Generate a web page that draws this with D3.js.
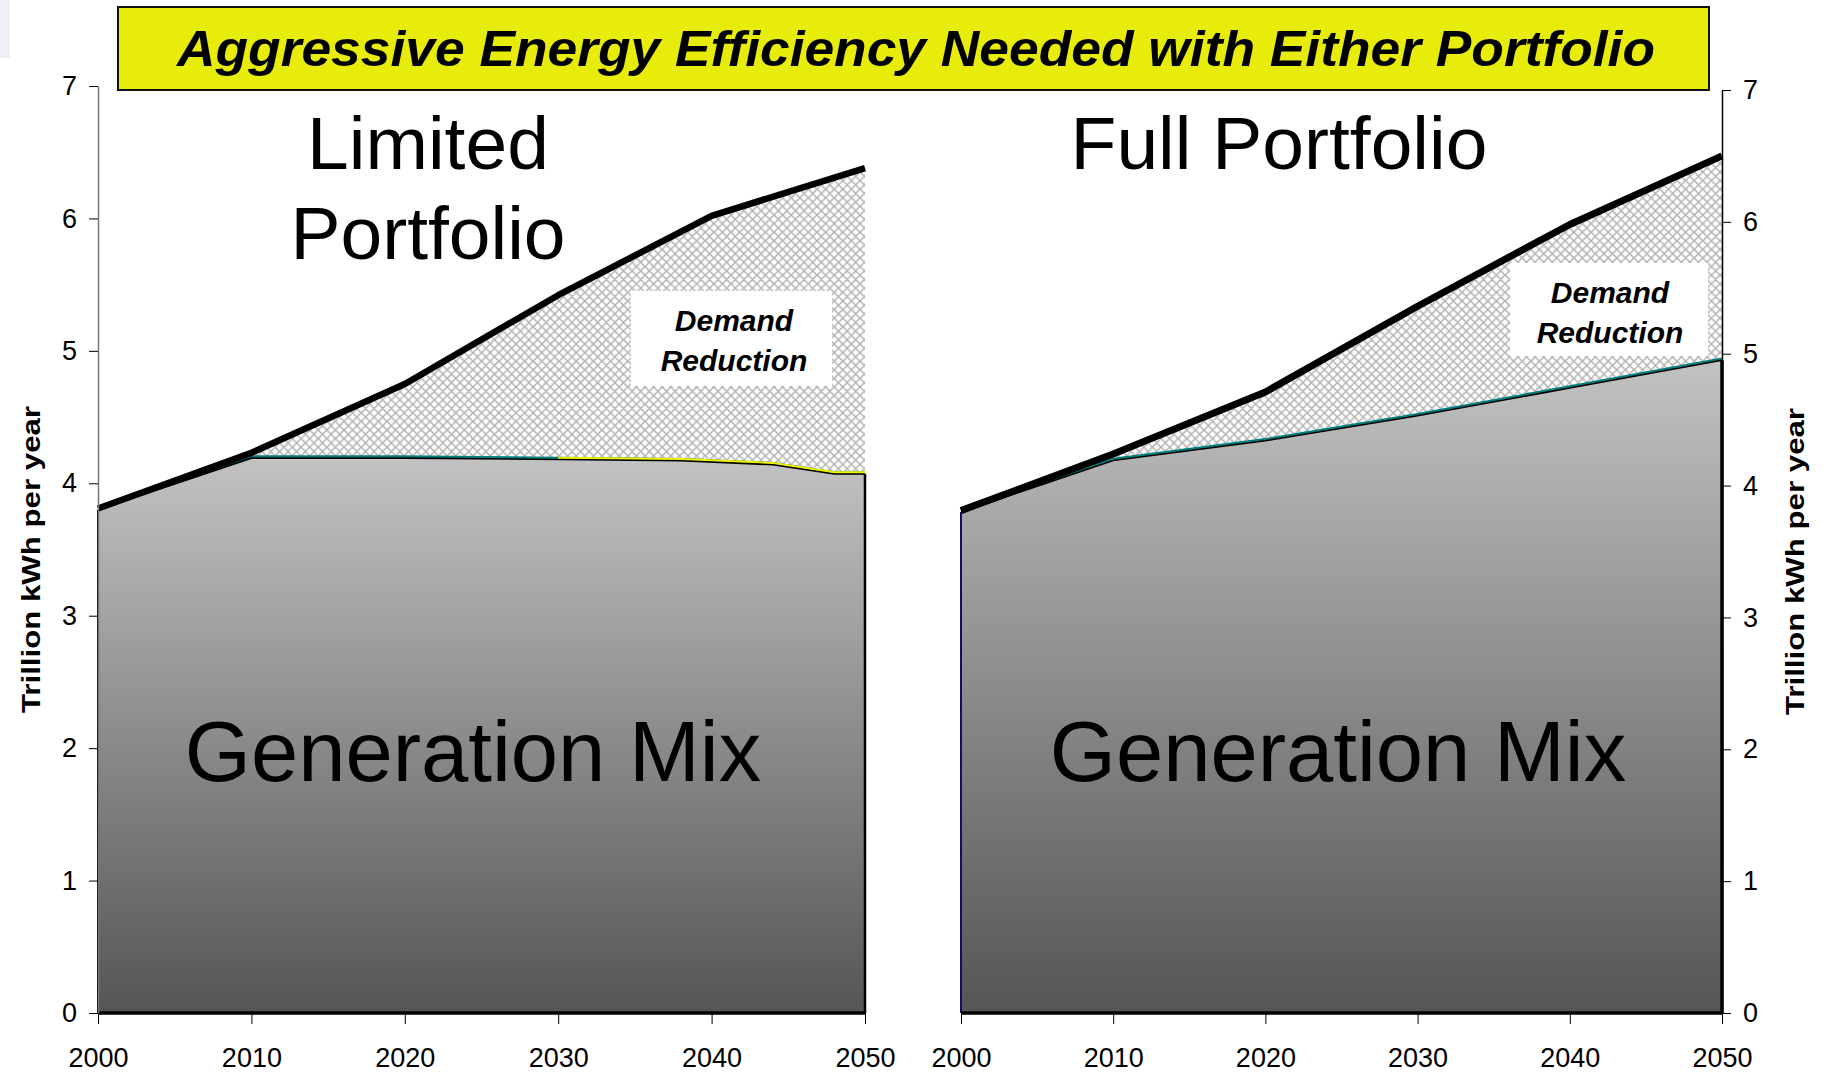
<!DOCTYPE html>
<html><head><meta charset="utf-8">
<script src="https://cdn.jsdelivr.net/npm/d3@7"></script>
<style>body{margin:0;background:#fff}svg{display:block}</style>
</head><body>
<script>
// ---- data ----
const title = "Aggressive Energy Efficiency Needed with Either Portfolio";
const yTicks = [0,1,2,3,4,5,6,7];
const xTicks = [2000,2010,2020,2030,2040,2050];
const years = [2000,2010,2020,2030,2040,2050];
const limitedDemand = [3.81,4.23,4.75,5.42,6.02,6.38];
const limitedMixYears = [2000,2010,2020,2030,2038,2044,2048,2050];
const limitedMix = [3.80,4.19,4.19,4.18,4.17,4.14,4.07,4.07];
const fullDemand = [3.81,4.24,4.71,5.36,5.98,6.50];
const fullMixYears = [2000,2010,2020,2030,2040,2050];
const fullMix = [3.80,4.19,4.34,4.53,4.74,4.95];
const yLabel = "Trillion kWh per year";

const W=1828,H=1074;
const svg=d3.select("body").append("svg").attr("width",W).attr("height",H)
  .style("font-family","'Liberation Sans',Arial,sans-serif");
const defs=svg.append("defs");
const P=8.6;
const pat=defs.append("pattern").attr("id","hatch").attr("patternUnits","userSpaceOnUse")
  .attr("width",P).attr("height",P);
pat.append("rect").attr("width",P).attr("height",P).attr("fill","#fff");
pat.append("path").attr("d",`M0,0L${P},${P}M${P},0L0,${P}M-1,${P-1}L1,${P+1}M${P-1},-1L${P+1},1M-1,1L1,-1M${P-1},${P+1}L${P+1},${P-1}`)
  .attr("stroke","#b2b2b2").attr("stroke-width",1.5);
const grad=defs.append("linearGradient").attr("id","gmix").attr("x1",0).attr("y1",0).attr("x2",0).attr("y2",1);
grad.append("stop").attr("offset","0%").attr("stop-color","#c2c2c2");
grad.append("stop").attr("offset","100%").attr("stop-color","#555555");

// faint slide artifact top-left
svg.append("rect").attr("x",0).attr("y",0).attr("width",10).attr("height",58).attr("fill","#eef0f6");

// title box
svg.append("rect").attr("x",118).attr("y",7).attr("width",1591).attr("height",83)
  .attr("fill","#e8ec0b").attr("stroke","#111").attr("stroke-width",2);
svg.append("text").attr("x",916).attr("y",66).attr("text-anchor","middle")
  .attr("font-size",50).attr("font-weight","bold").attr("font-style","italic")
  .attr("textLength",1478).attr("lengthAdjust","spacingAndGlyphs").text(title);

function panel(opt){
  const x=d3.scaleLinear().domain([2000,2050]).range(opt.xr);
  const y=d3.scaleLinear().domain([0,7]).range(opt.yr);
  const g=svg.append("g");
  const dem=opt.years.map((d,i)=>[d,opt.demand[i]]);
  const mix=opt.mixYears.map((d,i)=>[d,opt.mix[i]]);
  // hatched demand reduction
  g.append("path").datum(dem).attr("fill","url(#hatch)")
    .attr("d",d3.area().x(d=>x(d[0])).y0(y(0)).y1(d=>y(d[1])));
  // label box
  g.append("rect").attr("x",opt.box[0]).attr("y",opt.box[1]).attr("width",opt.box[2]).attr("height",opt.box[3]).attr("fill","#fff");
  const tb=g.append("text").attr("text-anchor","middle").attr("font-size",30)
    .attr("font-weight","bold").attr("font-style","italic");
  tb.append("tspan").attr("x",opt.boxText[0]).attr("y",opt.boxText[1]).text("Demand");
  tb.append("tspan").attr("x",opt.boxText[0]).attr("y",opt.boxText[1]+40).text("Reduction");
  // generation mix area
  g.append("path").datum(mix).attr("fill","url(#gmix)")
    .attr("d",d3.area().x(d=>x(d[0])).y0(y(0)).y1(d=>y(d[1])));
  const ln=d3.line().x(d=>x(d[0])).y(d=>y(d[1]));
  // colored thin layers on top
  g.append("path").datum(mix).attr("fill","none").attr("stroke","#008080").attr("stroke-width",2.5)
    .attr("transform","translate(0,-1.5)").attr("d",ln);
  if(opt.yellowFrom){
    g.append("path").datum(mix.filter(d=>d[0]>=opt.yellowFrom)).attr("fill","none").attr("stroke","#f2f200").attr("stroke-width",2.5)
      .attr("transform","translate(0,-1.5)").attr("d",ln);
  }
  g.append("path").datum(mix).attr("fill","none").attr("stroke","#000").attr("stroke-width",1.6).attr("d",ln);
  // edges
  const last=mix[mix.length-1];
  g.append("line").attr("x1",x(2050)).attr("x2",x(2050)).attr("y1",y(last[1])).attr("y2",y(0))
    .attr("stroke","#000").attr("stroke-width",opt.rightEdgeW);
  g.append("line").attr("x1",x(2000)).attr("x2",x(2000)).attr("y1",y(mix[0][1])).attr("y2",y(0))
    .attr("stroke",opt.leftEdgeColor).attr("stroke-width",2);
  // total demand line
  g.append("path").datum(dem).attr("fill","none").attr("stroke","#000").attr("stroke-width",opt.demW)
    .attr("stroke-linejoin","round").attr("d",ln);
  // big labels
  g.append("text").attr("x",opt.genX).attr("y",781).attr("text-anchor","middle")
    .attr("font-size",85).text("Generation Mix");
  opt.head.forEach((t,i)=>g.append("text").attr("x",opt.headX).attr("y",169+i*90)
    .attr("text-anchor","middle").attr("font-size",75).text(t));
  // x axis
  const xa=g.append("g").attr("transform",`translate(0,${y(0)})`)
    .call(d3.axisBottom(x).tickValues(xTicks).tickFormat(d3.format("d")).tickSize(11).tickSizeOuter(0));
  xa.select(".domain").remove();
  xa.selectAll("line").attr("stroke","#000");
  xa.selectAll("text").attr("font-size",27).attr("fill","#000").attr("dy",0).attr("y",54)
    .attr("font-family","'Liberation Sans',Arial,sans-serif");
  g.append("line").attr("x1",x(2000)).attr("x2",x(2050)).attr("y1",y(0)).attr("y2",y(0))
    .attr("stroke","#000").attr("stroke-width",3.5);
  // y axis
  const ax=opt.rightAxis?d3.axisRight(y):d3.axisLeft(y);
  const ya=g.append("g").attr("transform",`translate(${opt.rightAxis?x(2050):x(2000)},0)`)
    .call(ax.tickValues(yTicks).tickFormat(d3.format("d")).tickSize(9).tickSizeOuter(0).tickPadding(12));
  ya.select(".domain").attr("stroke",opt.rightAxis?"#000":"#777").attr("stroke-width",1.5);
  ya.selectAll("line").attr("stroke","#000");
  ya.selectAll("text").attr("font-size",27).attr("fill","#000")
    .attr("font-family","'Liberation Sans',Arial,sans-serif");
  // y axis title
  g.append("text").attr("transform",`translate(${opt.titleX},${(y(0)+y(7))/2+10}) rotate(-90)`)
    .attr("text-anchor","middle").attr("font-size",25).attr("font-weight","bold")
    .attr("textLength",307).attr("lengthAdjust","spacingAndGlyphs").text(yLabel);
}

panel({xr:[98,865],yr:[1013,86],years:years,demand:limitedDemand,mixYears:limitedMixYears,mix:limitedMix,
  box:[631,291,201,95],boxText:[734,331],genX:473,headX:428,head:["Limited","Portfolio"],demW:6.5,
  rightEdgeW:2.5,leftEdgeColor:"#000",yellowFrom:2030,rightAxis:false,titleX:40});
panel({xr:[961,1722],yr:[1013,90],years:years,demand:fullDemand,mixYears:fullMixYears,mix:fullMix,
  box:[1510,263,198,93],boxText:[1610,303],genX:1338,headX:1279,head:["Full Portfolio"],demW:7,
  rightEdgeW:3.5,leftEdgeColor:"#101060",yellowFrom:null,rightAxis:true,titleX:1804});
</script>
</body></html>
